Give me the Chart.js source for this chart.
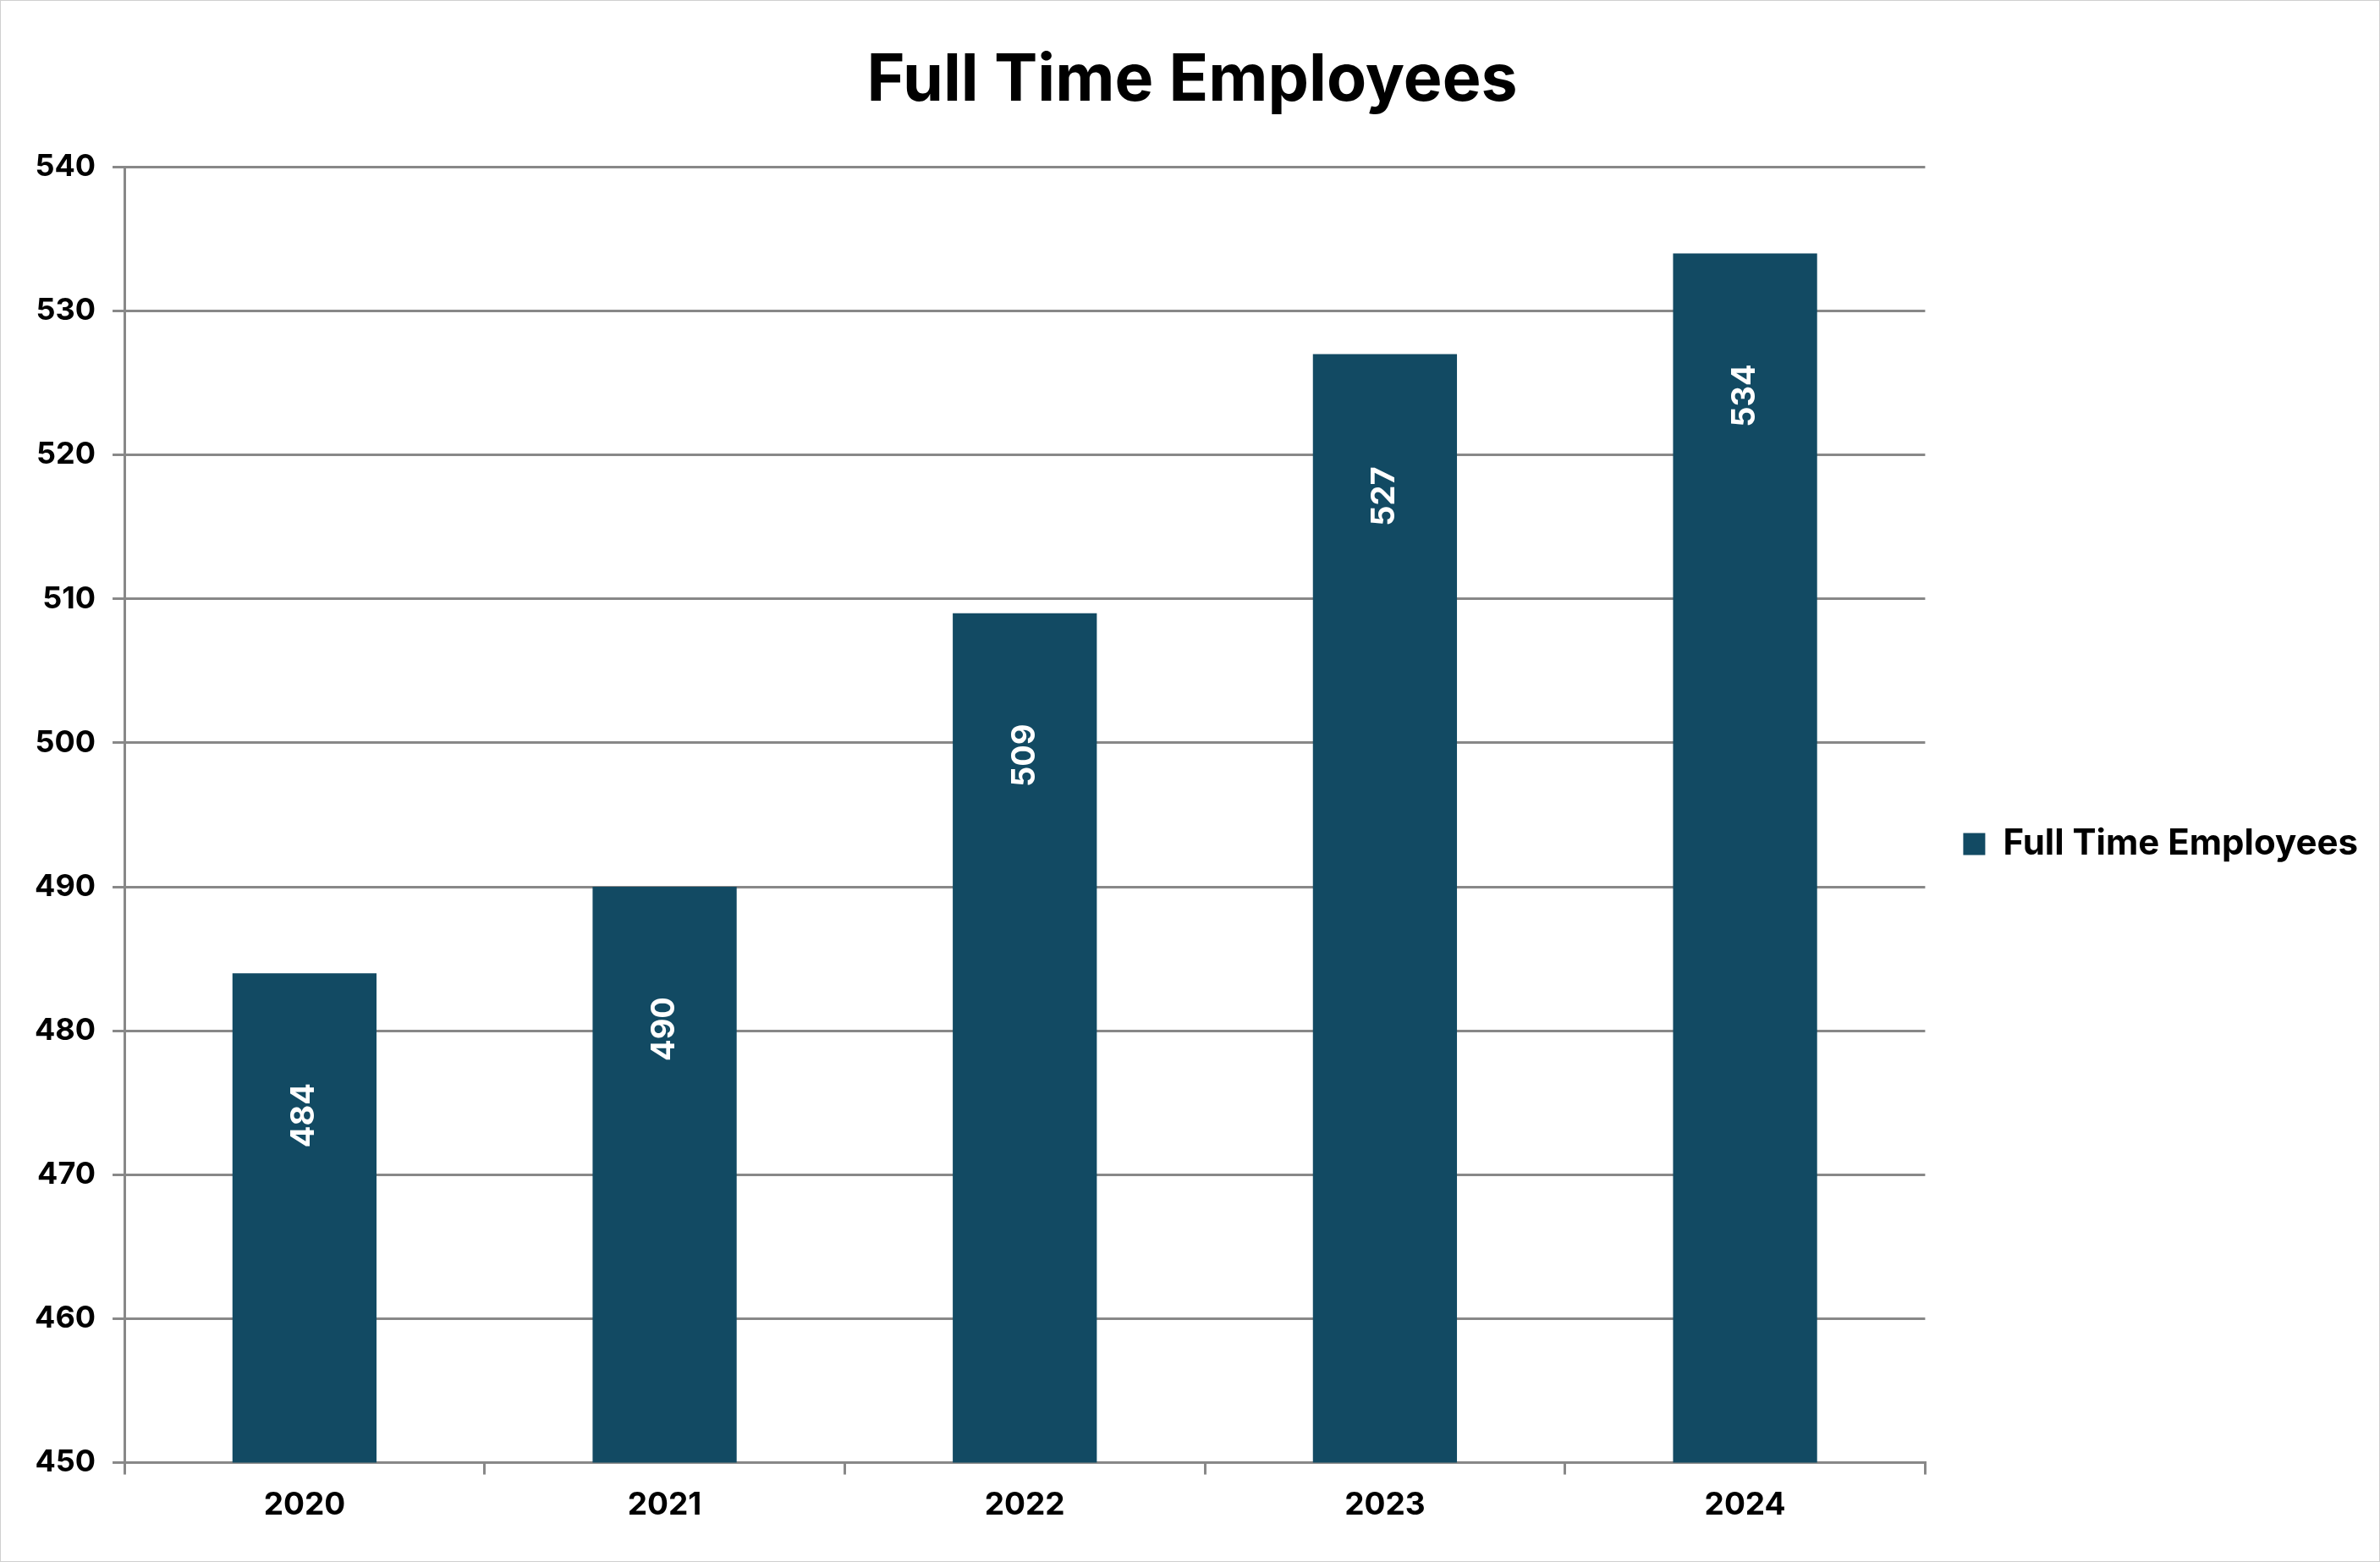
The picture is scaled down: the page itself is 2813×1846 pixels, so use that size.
<!DOCTYPE html>
<html><head><meta charset="utf-8">
<script src="https://cdn.jsdelivr.net/npm/chart.js@4.4.0/dist/chart.umd.min.js"></script>
<style>html,body{margin:0;padding:0;background:#fff}#wrap{position:absolute;left:0;top:0;width:2811px;height:1844px;border:1px solid #d0d0d0}</style>
</head><body><div id="wrap"><canvas id="c"></canvas></div>
<script>
const categories = ["2020","2021","2022","2023","2024"];
const seriesName = "Full Time Employees";
const values = [484, 490, 509, 527, 534];
const yMin = 450, yMax = 540, yStep = 10;
const barColor = "#124A63";
const FONT = "Inter, 'Liberation Sans', sans-serif";

const labelPlugin = {
  id: 'vlabels',
  afterDatasetsDraw(chart) {
    const ctx = chart.ctx;
    const meta = chart.getDatasetMeta(0);
    ctx.save();
    ctx.fillStyle = '#fff';
    ctx.font = 'bold 38px ' + FONT;
    ctx.textAlign = 'center';
    ctx.textBaseline = 'middle';
    meta.data.forEach((el, i) => {
      ctx.save();
      ctx.translate(el.x, el.y + 168);
      ctx.rotate(-Math.PI / 2);
      ctx.fillText(String(values[i]), 0, 0);
      ctx.restore();
    });
    ctx.restore();
  }
};

new Chart(document.getElementById('c'), {
  type: 'bar',
  data: { labels: categories, datasets: [{ label: seriesName, data: values, backgroundColor: barColor, barPercentage: 0.4, categoryPercentage: 1.0 }] },
  options: {
    responsive: true, maintainAspectRatio: false, animation: false,
    devicePixelRatio: 1,
    layout: { padding: { left: 20, right: 15, top: 24, bottom: 30 } },
    plugins: {
      title: { display: true, text: 'Full Time Employees', color: '#000', font: { family: FONT, size: 77, weight: 'bold' }, padding: { top: 25, bottom: 55 } },
      legend: { position: 'right',
        title: { display: true, text: ' ', font: { size: 1 }, padding: { top: 154, bottom: 0 } },
        labels: { color: '#000', font: { family: FONT, size: 42, weight: 'bold' }, boxWidth: 26, boxHeight: 26, padding: 45 } },
      tooltip: { enabled: false }
    },
    scales: {
      x: {
        grid: { drawOnChartArea: false, drawTicks: true, tickLength: 14, offset: true, color: '#888', lineWidth: 3 },
        border: { color: '#888', width: 3 },
        ticks: { color: '#000', font: { family: FONT, size: 37, weight: 'bold' }, padding: 14 }
      },
      y: {
        min: yMin, max: yMax,
        grid: { color: '#888', lineWidth: 3, tickLength: 14 },
        border: { color: '#888', width: 3 },
        ticks: { stepSize: yStep, color: '#000', font: { family: FONT, size: 36, weight: 'bold' }, padding: 20 }
      }
    }
  },
  plugins: [labelPlugin]
});
</script></body></html>
